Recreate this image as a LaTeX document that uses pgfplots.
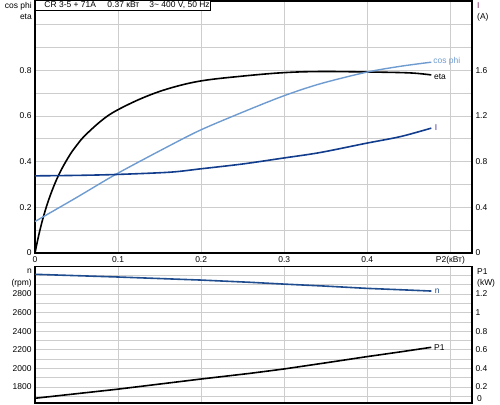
\documentclass[border=0pt]{standalone}
\usepackage{fontspec}
\setmainfont{Liberation Sans}
\usepackage{pgfplots}
\pgfplotsset{compat=1.18}
\definecolor{cosphi}{HTML}{6E9BD0}
\definecolor{curI}{HTML}{123C8C}
\definecolor{ncol}{HTML}{1F4C8F}
\definecolor{gridc}{HTML}{CDCDCD}
\definecolor{ilab}{HTML}{7A1E5A}
\definecolor{ilab2}{HTML}{4B2A9A}
\newcommand{\lf}{\fontsize{8.5}{10}\selectfont}
\pgfplotsset{
  base/.style={
    scale only axis, width=437bp, xmin=0, xmax=0.526,
    /pgf/number format/assume math mode=true,
    /pgf/number format/1000 sep={},
    tick label style={font=\lf},
    major tick length=0pt, minor tick length=0pt,
    axis line style={line width=1.2bp},
    grid style={gridc, line width=0.8bp},
    minor grid style={gridc, line width=0.8bp},
    clip=false,
  },
}
\begin{document}
\begin{tikzpicture}
\useasboundingbox (-35bp,-2bp) rectangle (465bp,403bp);
% ---------- upper left: cos phi / eta ----------
\begin{axis}[base, at={(0bp,150bp)}, height=252bp, ymin=0, ymax=1.104,
  xtick={0,0.1,0.2,0.3,0.4,0.5}, xticklabels={0,0.1,0.2,0.3,0.4,P2(кВт)},
  ytick={0,0.2,0.4,0.6,0.8}, minor ytick={0.1,0.3,0.5,0.7,0.9,1.0},
  xmajorgrids, ymajorgrids, yminorgrids]
\addplot[black, line width=1.6bp, smooth, tension=0.6] table {
0 0
0.003 0.053
0.006 0.101
0.01 0.157
0.016 0.228
0.024 0.305
0.032 0.367
0.042 0.430
0.05 0.471
0.06 0.514
0.08 0.580
0.098 0.624
0.13 0.680
0.1624 0.722
0.2 0.754
0.25 0.775
0.299 0.790
0.343 0.795
0.4 0.793
0.451 0.789
0.477 0.780
};
\addplot[cosphi, line width=1.4bp, smooth] table {
0 0.138
0.05 0.243
0.098 0.346
0.1624 0.471
0.2 0.540
0.25 0.617
0.299 0.688
0.343 0.741
0.399 0.792
0.44 0.818
0.477 0.836
};
\node[anchor=west, text=cosphi, font=\lf, inner sep=1bp] at (axis cs:0.478,0.838) {cos phi};
\node[anchor=west, text=black, font=\lf, inner sep=1bp] at (axis cs:0.479,0.772) {eta};
\node[anchor=east, font=\lf, inner sep=0pt] at ([xshift=-3bp,yshift=-5bp]rel axis cs:0,1) {cos phi};
\node[anchor=east, font=\lf, inner sep=0pt] at ([xshift=-3bp,yshift=-16bp]rel axis cs:0,1) {eta};
\node[draw, fill=white, line width=1bp, anchor=north west, font=\lf, inner xsep=0pt, inner ysep=1.5bp]
  at ([yshift=1bp]rel axis cs:0,1) {\hspace{9bp}\makebox[63bp][l]{CR 3-5 + 71A}\makebox[42bp][l]{0.37 кВт}\makebox[61bp][l]{3\textasciitilde\ 400 V, 50 Hz}\hspace{4bp}};
\end{axis}
% ---------- upper right: I ----------
\begin{axis}[base, at={(0bp,150bp)}, height=252bp, ymin=0, ymax=2.208,
  axis y line*=right, axis x line=none,
  ytick={0,0.4,0.8,1.2,1.6}]
\addplot[curI, line width=1.6bp, smooth] table {
0 0.676
0.05 0.680
0.098 0.688
0.1624 0.708
0.2 0.738
0.25 0.780
0.299 0.832
0.343 0.880
0.399 0.962
0.44 1.020
0.477 1.094
};
\node[anchor=west, text=ilab2, font=\lf, inner sep=1bp] at (axis cs:0.480,1.10) {I};
\node[anchor=west, text=ilab, font=\lf, inner sep=0pt] at ([xshift=5bp,yshift=-5bp]rel axis cs:1,1) {I};
\node[anchor=west, font=\lf, inner sep=0pt] at ([xshift=5bp,yshift=-16bp]rel axis cs:1,1) {(A)};
\end{axis}
% ---------- lower left: n ----------
\begin{axis}[base, at={(0bp,0bp)}, height=136.5bp, ymin=1628, ymax=3096,
  xtick={0.1,0.2,0.3,0.4,0.5}, xticklabels={},
  ytick={1800,2000,2200,2400,2600,2800}, minor ytick={1700,1900,2100,2300,2500,2700,2900,3000},
  xmajorgrids, ymajorgrids, yminorgrids]
\addplot[ncol, line width=1.6bp] table {
0 3012
0.1 2983
0.2 2950
0.259 2926
0.299 2907
0.35 2885
0.399 2861
0.44 2846
0.477 2832
};
\node[anchor=west, text=ncol, font=\lf, inner sep=1bp] at (axis cs:0.480,2826) {n};
\node[anchor=east, font=\lf, inner sep=0pt] at ([xshift=-3bp,yshift=-5bp]rel axis cs:0,1) {n};
\node[anchor=east, font=\lf, inner sep=0pt] at ([xshift=-3bp,yshift=-16.5bp]rel axis cs:0,1) {(rpm)};
\end{axis}
% ---------- lower right: P1 ----------
\begin{axis}[base, at={(0bp,0bp)}, height=136.5bp, ymin=0.028, ymax=1.496,
  axis y line*=right, axis x line=none,
  ytick={0.2,0.4,0.6,0.8,1,1.2}]
\addplot[black, line width=1.6bp] table {
0 0.079
0.098 0.175
0.2 0.286
0.259 0.347
0.299 0.393
0.35 0.460
0.399 0.526
0.44 0.578
0.477 0.627
};
\node[anchor=west, font=\lf, inner sep=1bp] at (axis cs:0.479,0.627) {P1};
\node[anchor=west, font=\lf, inner sep=0pt] at ([xshift=5bp,yshift=-5bp]rel axis cs:1,1) {P1};
\node[anchor=west, font=\lf, inner sep=0pt] at ([xshift=5bp,yshift=-16.5bp]rel axis cs:1,1) {(kW)};
\node[anchor=west, font=\lf, inner sep=0pt] at ([xshift=5bp,yshift=4bp]rel axis cs:1,0) {0};
\end{axis}
\end{tikzpicture}
\end{document}
